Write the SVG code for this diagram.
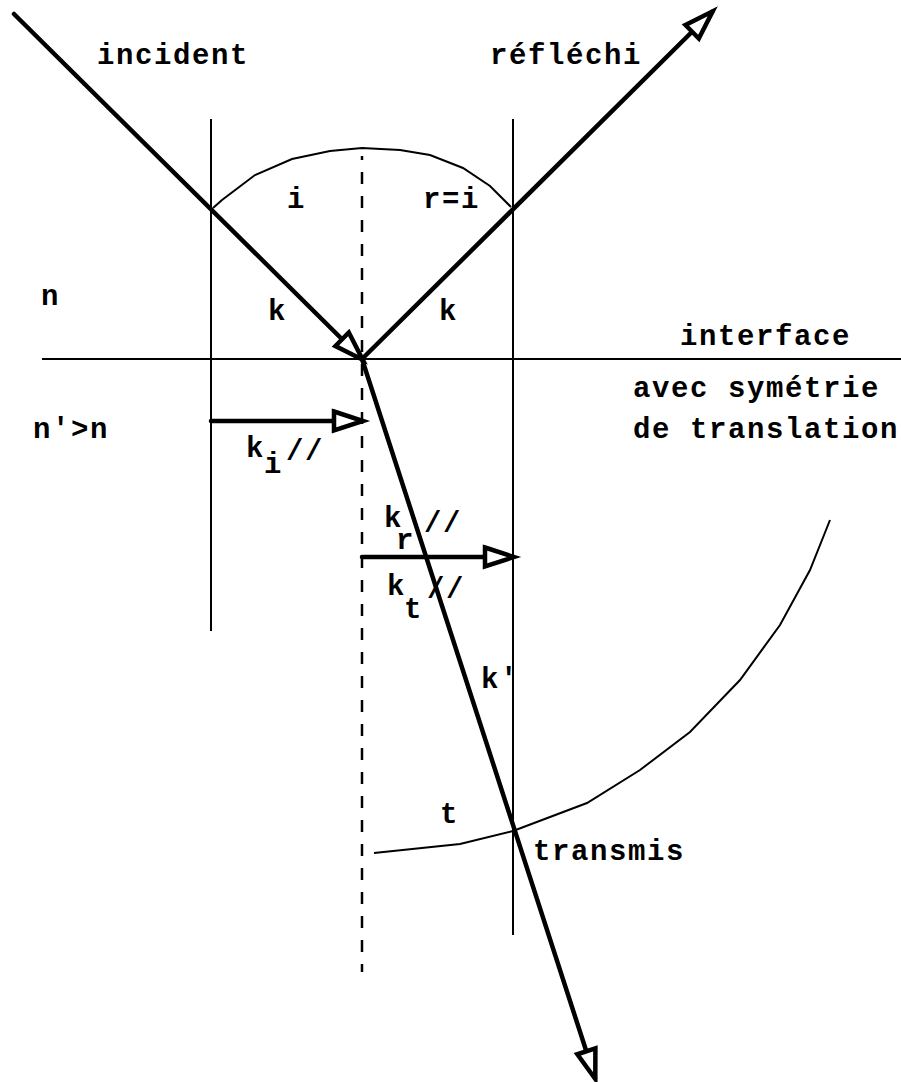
<svg xmlns="http://www.w3.org/2000/svg" width="901" height="1082" viewBox="0 0 901 1082">
<style>
.thin{fill:none;stroke:#000;stroke-width:2}
.thick{fill:none;stroke:#000;stroke-width:4.5;stroke-linecap:round}
.dash{fill:none;stroke:#000;stroke-width:2.5;stroke-dasharray:12 12;stroke-dashoffset:8}
text{font-family:"Liberation Mono","Courier New",monospace;font-weight:bold;font-size:29px;letter-spacing:1.6px;fill:#000}
</style>
<defs>
<marker id="ah" markerUnits="userSpaceOnUse" viewBox="-4 -14 36 28" markerWidth="36" markerHeight="28" refX="28" refY="0" orient="auto" overflow="visible">
<path d="M0,-9.5 L29,0 L0,9.5 Z" fill="#fff" stroke="#000" stroke-width="4.5" stroke-linejoin="miter"/>
</marker>
</defs>
<rect width="901" height="1082" fill="#fff"/>
<g id="guides">
<line class="thin" x1="42" y1="359" x2="901" y2="359"/>
<line class="thin" x1="211" y1="119" x2="211" y2="631"/>
<line class="thin" x1="513" y1="119" x2="513" y2="935"/>
<line class="dash" x1="362" y1="156" x2="362" y2="972"/>
<polyline class="thin" points="213,208 222,200 255,175 292,159 330,151 362,148 400,150 430,155 463,168 490,186 511,207"/>
<polyline class="thin" points="374,853 460,844 513,831 587,803 640,770 690,732 740,680 780,625 810,570 830,520"/>
</g>
<g id="connectors">
<line class="thick" x1="14" y1="14" x2="362" y2="359" marker-end="url(#ah)"/>
<line class="thick" x1="362" y1="359" x2="712" y2="12" marker-end="url(#ah)"/>
<line class="thick" x1="362" y1="359" x2="595" y2="1078" marker-end="url(#ah)"/>
<line class="thick" x1="211" y1="421" x2="362" y2="421" marker-end="url(#ah)"/>
<line class="thick" x1="362" y1="557" x2="513" y2="557" marker-end="url(#ah)"/>
</g>
<g id="labels">
<text x="97" y="64">incident</text>
<text x="490" y="64">réfléchi</text>
<text x="287" y="208">i</text>
<text x="423" y="208">r=i</text>
<text x="41" y="305">n</text>
<text x="268" y="320">k</text>
<text x="439" y="320">k</text>
<text x="680" y="345">interface</text>
<text x="633" y="397">avec symétrie</text>
<text x="633" y="438">de translation</text>
<text x="33" y="438">n'&gt;n</text>
<text x="246" y="457">k</text>
<text x="264" y="473">i</text>
<text x="286" y="460">//</text>
<text x="384" y="527">k</text>
<text x="396" y="549">r</text>
<text x="424" y="532">//</text>
<text x="387" y="595">k</text>
<text x="404" y="618">t</text>
<text x="427" y="598">//</text>
<text x="481" y="688">k'</text>
<text x="440" y="823">t</text>
<text x="533" y="860">transmis</text>
</g>
</svg>
